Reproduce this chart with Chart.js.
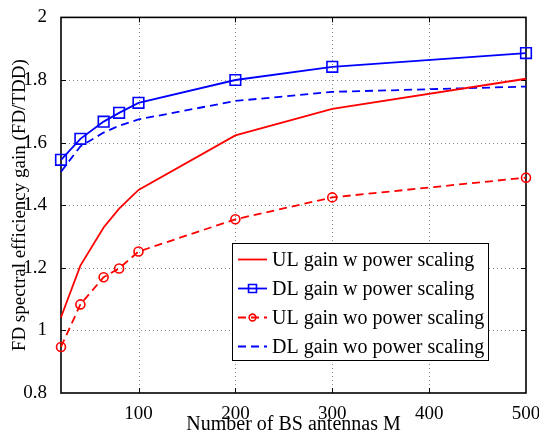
<!DOCTYPE html>
<html>
<head>
<meta charset="utf-8">
<script src="https://cdn.jsdelivr.net/npm/chart.js@4.4.0/dist/chart.umd.min.js"></script>
<style>
  html, body { margin: 0; padding: 0; background: #fff; }
  #wrap { width: 539px; height: 437px; }
</style>
</head>
<body>
<div id="wrap"><canvas id="chart"></canvas></div>
<script>
// Number of BS antennas M vs FD/TDD spectral efficiency gain
const antennas = [20, 40, 64, 80, 100, 200, 300, 500];
const ulGainW  = [1.042, 1.207, 1.329, 1.389, 1.449, 1.623, 1.708, 1.804];
const dlGainW  = [1.545, 1.612, 1.667, 1.695, 1.727, 1.800, 1.842, 1.886];
const ulGainWo = [0.947, 1.083, 1.170, 1.198, 1.252, 1.355, 1.425, 1.488];
const dlGainWo = [1.507, 1.588, 1.632, 1.654, 1.674, 1.733, 1.762, 1.779];
const xTicks = [100, 200, 300, 400, 500];
const yTicks = [0.8, 1, 1.2, 1.4, 1.6, 1.8, 2];
const seriesNames = ['UL gain w power scaling', 'DL gain w power scaling',
                     'UL gain wo power scaling', 'DL gain wo power scaling'];

const RED = '#ff0000';
const BLUE = '#0000ff';
const SERIF = '"Liberation Serif", "DejaVu Serif", serif';

const toXY = ys => ys.map((y, i) => ({ x: antennas[i], y: y }));

// dotted grid, box, inward ticks and the legend, matlab style
const framePlugin = {
  id: 'frame',
  beforeDatasetsDraw(chart) {
    const { ctx, chartArea: a, scales } = chart;
    ctx.save();
    ctx.beginPath();
    ctx.rect(a.left, a.top, a.right - a.left, a.bottom - a.top);
    ctx.clip();
    // dotted grid
    ctx.strokeStyle = '#888';
    ctx.lineWidth = 1;
    ctx.setLineDash([1, 3]);
    ctx.beginPath();
    xTicks.forEach(v => {
      const px = Math.round(scales.x.getPixelForValue(v)) + 0.5;
      ctx.moveTo(px, a.bottom); ctx.lineTo(px, a.top);
    });
    yTicks.forEach(v => {
      const py = Math.round(scales.y.getPixelForValue(v)) + 0.5;
      ctx.moveTo(a.left, py); ctx.lineTo(a.right, py);
    });
    ctx.stroke();
    ctx.setLineDash([]);

    // inward tick marks on all four sides
    ctx.strokeStyle = '#000';
    ctx.beginPath();
    xTicks.forEach(v => {
      const px = Math.round(scales.x.getPixelForValue(v)) + 0.5;
      ctx.moveTo(px, a.bottom); ctx.lineTo(px, a.bottom - 5);
      ctx.moveTo(px, a.top); ctx.lineTo(px, a.top + 5);
    });
    yTicks.forEach(v => {
      const py = Math.round(scales.y.getPixelForValue(v)) + 0.5;
      ctx.moveTo(a.left, py); ctx.lineTo(a.left + 5, py);
      ctx.moveTo(a.right, py); ctx.lineTo(a.right - 5, py);
    });
    ctx.stroke();
    ctx.restore();

    ctx.save();
    ctx.strokeStyle = '#000';
    ctx.lineWidth = 1.6;
    ctx.strokeRect(a.left, a.top, a.right - a.left, a.bottom - a.top);
    ctx.restore();
  },
  afterDatasetsDraw(chart) {
    const { ctx } = chart;
    const bx = 232, by = 243, bw = 256, bh = 117;
    ctx.save();
    ctx.fillStyle = '#fff';
    ctx.fillRect(bx, by, bw, bh);
    ctx.strokeStyle = '#000';
    ctx.lineWidth = 1;
    ctx.strokeRect(bx + 0.5, by + 0.5, bw, bh);
    ctx.font = '20px ' + SERIF;
    ctx.textBaseline = 'middle';
    chart.data.datasets.forEach((ds, i) => {
      const cy = 259.5 + i * 29;
      ctx.strokeStyle = ds.borderColor;
      ctx.lineWidth = ds.borderWidth;
      ctx.setLineDash(ds.borderDash || []);
      ctx.beginPath();
      ctx.moveTo(238, cy); ctx.lineTo(267, cy);
      ctx.stroke();
      ctx.setLineDash([]);
      if (ds.pointRadius > 0) {
        ctx.fillStyle = 'rgba(0,0,0,0)';
        ctx.lineWidth = ds.pointBorderWidth;
        Chart.helpers.drawPoint(ctx, {
          pointStyle: ds.pointStyle, radius: ds.pointRadius * 0.75,
          borderWidth: ds.pointBorderWidth, rotation: 0
        }, 252.5, cy);
      }
      ctx.fillStyle = '#000';
      ctx.fillText(ds.label, 272, cy + 1);
    });
    ctx.restore();
  }
};

new Chart(document.getElementById('chart'), {
  type: 'line',
  data: {
    datasets: [
      {
        label: seriesNames[0], data: toXY(ulGainW),
        borderColor: RED, borderWidth: 1.8, pointRadius: 0
      },
      {
        label: seriesNames[1], data: toXY(dlGainW),
        borderColor: BLUE, borderWidth: 1.8,
        pointStyle: 'rect', pointRadius: 7.5, pointBorderWidth: 1.6,
        pointBorderColor: BLUE, pointBackgroundColor: 'rgba(0,0,0,0)'
      },
      {
        label: seriesNames[2], data: toXY(ulGainWo),
        borderColor: RED, borderWidth: 1.8, borderDash: [8, 5],
        pointStyle: 'circle', pointRadius: 4.5, pointBorderWidth: 1.6,
        pointBorderColor: RED, pointBackgroundColor: 'rgba(0,0,0,0)'
      },
      {
        label: seriesNames[3], data: toXY(dlGainWo),
        borderColor: BLUE, borderWidth: 1.8, borderDash: [8, 5], pointRadius: 0
      }
    ]
  },
  options: {
    responsive: true,
    maintainAspectRatio: false,
    animation: false,
    devicePixelRatio: 1,
    layout: { padding: { top: 16, right: 13, left: 0, bottom: 0 } },
    elements: { line: { tension: 0 } },
    datasets: { line: { clip: false } },
    plugins: {
      legend: { display: false },
      tooltip: { enabled: false }
    },
    scales: {
      x: {
        type: 'linear',
        min: 20,
        max: 500,
        afterBuildTicks: s => { s.ticks = xTicks.map(v => ({ value: v })); },
        afterFit: s => { s.height = 44; s.paddingRight = 0; s.paddingLeft = 0; },
        grid: { display: false },
        border: { display: false },
        ticks: {
          color: '#000', padding: 2, maxRotation: 0,
          font: { family: SERIF, size: 19 }
        },
        title: {
          display: true, text: 'Number of BS antennas M', color: '#000',
          font: { family: SERIF, size: 20 }, padding: { top: 0, bottom: 0 }
        }
      },
      y: {
        min: 0.8,
        max: 2,
        afterBuildTicks: s => { s.ticks = yTicks.map(v => ({ value: v })); },
        afterFit: s => { s.width = 61; },
        grid: { display: false },
        border: { display: false },
        ticks: {
          color: '#000', padding: 6,
          font: { family: SERIF, size: 19 },
          callback: v => String(+v.toFixed(1))
        },
        title: {
          display: true, text: 'FD spectral efficiency gain (FD/TDD)', color: '#000',
          font: { family: SERIF, size: 19 }, padding: { top: 9, bottom: 0 }
        }
      }
    }
  },
  plugins: [framePlugin]
});
</script>
</body>
</html>
